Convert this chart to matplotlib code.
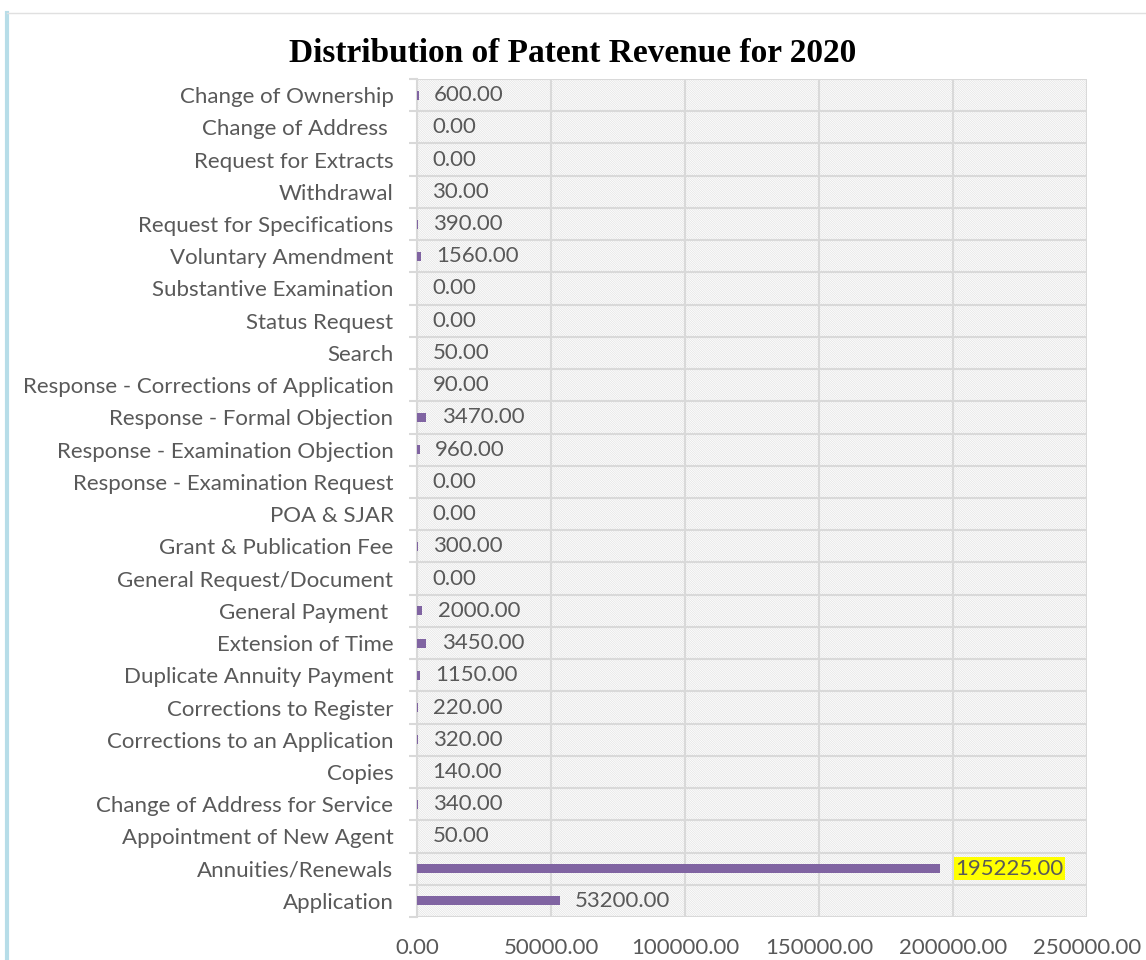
import numpy as np
import matplotlib.pyplot as plt
from matplotlib.patches import Rectangle
from matplotlib.lines import Line2D

plt.rcParams['font.family'] = ['Lato', 'DejaVu Sans']
plt.rcParams['hatch.linewidth'] = 0.5
plt.rcParams['hatch.color'] = '#e2e2e2'

# categories listed bottom -> top
categories = ['Application', 'Annuities/Renewals', 'Appointment of New Agent',
              'Change of Address for Service', 'Copies', 'Corrections to an Application',
              'Corrections to Register', 'Duplicate Annuity Payment', 'Extension of Time',
              'General Payment ', 'General Request/Document', 'Grant & Publication Fee',
              'POA & SJAR', 'Response - Examination Request', 'Response - Examination Objection',
              'Response - Formal Objection', 'Response - Corrections of Application', 'Search',
              'Status Request', 'Substantive Examination', 'Voluntary Amendment',
              'Request for Specifications', 'Withdrawal', 'Request for Extracts',
              'Change of Address ', 'Change of Ownership']
revenue = [53200, 195225, 50, 340, 140, 320, 220, 1150, 3450, 2000, 0, 300, 0, 0, 960,
           3470, 90, 50, 0, 0, 1560, 390, 30, 0, 0, 600]
xticks = [0, 50000, 100000, 150000, 200000, 250000]

TEXT = '#595959'
GRID = '#d9d9d9'
BAR = '#8064a2'

fig = plt.figure(figsize=(11.46, 9.6), dpi=100)
ax = fig.add_axes([417/1146, 1-917/960, 670/1146, 838/960])

y = np.arange(len(categories))
ax.barh(y, revenue, height=0.28, color=BAR, zorder=3)

# hatched plot background
ax.add_patch(Rectangle((0, 0), 1, 1, transform=ax.transAxes, facecolor='white',
                       edgecolor='#e2e2e2', hatch='\\' * 15, linewidth=0, zorder=0))

ax.set_xlim(0, 250000)
ax.set_ylim(-0.5, len(categories) - 0.5)
ax.set_xticks(xticks)
ax.set_xticklabels(['%.2f' % v for v in xticks])
ax.set_yticks(y)
ax.set_yticklabels(categories)
ax.set_yticks(np.arange(-0.5, len(categories), 1), minor=True)

ax.tick_params(axis='x', length=0, pad=15, labelsize=16, labelcolor=TEXT)
ax.tick_params(axis='y', which='major', length=0, pad=17, labelsize=16, labelcolor=TEXT)
ax.tick_params(axis='y', which='minor', length=6, width=1.5, color=GRID)

ax.grid(axis='x', which='major', color=GRID, linewidth=1.5, zorder=1)
ax.grid(axis='y', which='minor', color=GRID, linewidth=1.5, zorder=1)
for s in ax.spines.values():
    s.set_visible(False)
ax.spines['left'].set_visible(True)
ax.spines['left'].set_color(GRID)
ax.spines['left'].set_linewidth(1.5)
ax.set_axisbelow(True)

top = max(revenue)
for yi, v in zip(y, revenue):
    t = ax.annotate('%.2f' % v, (v, yi), xytext=(11, 0), textcoords='offset points',
                    ha='left', va='center', fontsize=16, color=TEXT, zorder=4)
    if v == top:
        t.set_bbox(dict(facecolor='#ffff00', edgecolor='none', pad=1))

fig.suptitle('Distribution of Patent Revenue for 2020', x=0.5, y=1-53/960, va='center',
             fontsize=24, fontweight='bold', family='Liberation Serif')

# frame edges of the slide
fig.add_artist(Line2D([7/1146, 7/1146], [0, 1 - 13/960], transform=fig.transFigure,
                      color='#b7dde8', linewidth=3))
fig.add_artist(Line2D([7/1146, 1], [1 - 13/960, 1 - 13/960], transform=fig.transFigure,
                      color='#e0e0e0', linewidth=1))

fig.savefig('out.png', dpi=100)
